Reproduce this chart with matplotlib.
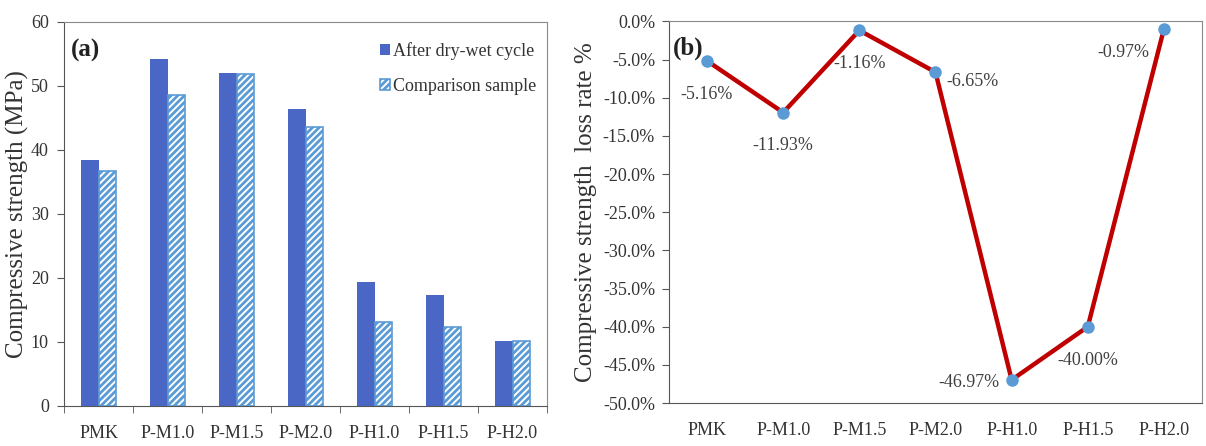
import matplotlib
matplotlib.use("Agg")
import matplotlib.pyplot as plt
import numpy as np
from matplotlib.ticker import FuncFormatter, MultipleLocator

categories = ["PMK", "P-M1.0", "P-M1.5", "P-M2.0", "P-H1.0", "P-H1.5", "P-H2.0"]
after_cycle = [38.4, 54.2, 52.0, 46.3, 19.3, 17.3, 10.2]
comparison = [36.7, 48.5, 51.8, 43.6, 13.1, 12.4, 10.2]
loss_rate = [-5.16, -11.93, -1.16, -6.65, -46.97, -40.00, -0.97]
loss_labels = ["-5.16%", "-11.93%", "-1.16%", "-6.65%", "-46.97%", "-40.00%", "-0.97%"]
# label offsets in points (dx, dy)
label_offsets = [(0, -24), (0, -24), (0, -24), (27, -7), (-31, -2), (0, -24), (-29, -17)]

plt.rcParams['font.family'] = ['Liberation Serif', 'DejaVu Serif']
plt.rcParams['hatch.linewidth'] = 2.0

dark = '#333333'
spine_c = '#8a8a8a'
blue = '#4A67C6'
light = '#5B9BD5'
red = '#C00000'

fig = plt.figure(figsize=(12.06, 4.46), dpi=100)
ax1 = fig.add_axes([0.0531, 0.0897, 0.4005, 0.862])
ax2 = fig.add_axes([0.5547, 0.0964, 0.4420, 0.8554])

x = np.arange(len(categories))
w = 0.25
ax1.bar(x - w / 2, after_cycle, width=w, color=blue, label="After dry-wet cycle", zorder=2)
ax1.bar(x + w / 2, comparison, width=w, facecolor='white', edgecolor=light, hatch='/////',
        linewidth=1.2, label="Comparison sample", zorder=2)
ax1.set_xlim(-0.5, len(categories) - 0.5)
ax1.set_ylim(0, 60)
ax1.yaxis.set_major_locator(MultipleLocator(10))
ax1.set_xticks(x)
ax1.set_xticklabels(categories)
ax1.set_xticks(np.arange(len(categories) + 1) - 0.5, minor=True)
ax1.tick_params(axis='x', which='major', length=0, pad=14, labelsize=13, labelcolor=dark)
ax1.tick_params(axis='x', which='minor', length=5, direction='out', color='#555555')
ax1.tick_params(axis='y', length=5, direction='out', color='#555555', labelsize=13, labelcolor=dark, pad=6)
ax1.set_ylabel("Compressive strength (MPa)", fontsize=18, color=dark, labelpad=1)
for s in ['top', 'right']:
    ax1.spines[s].set_color(spine_c)
for s in ['left', 'bottom']:
    ax1.spines[s].set_color('#555555')
ax1.text(0.015, 0.955, "(a)", transform=ax1.transAxes, fontsize=18, fontweight='bold',
         va='top', ha='left', color='#222222')
leg = ax1.legend(loc='upper right', bbox_to_anchor=(1.0, 0.975), frameon=False, fontsize=13,
                 handlelength=0.55, handleheight=0.55, handletextpad=0.15, labelspacing=1.0,
                 borderaxespad=0.2)
for t in leg.get_texts():
    t.set_color(dark)

ax2.plot(x, loss_rate, color=red, linewidth=3.2, marker='o', markersize=8,
         markerfacecolor=light, markeredgecolor=light, zorder=3)
for xi, yi, lab, off in zip(x, loss_rate, loss_labels, label_offsets):
    ax2.annotate(lab, (xi, yi), xytext=off, textcoords='offset points', ha='center', va='center',
                 fontsize=13, color='#404040')
ax2.set_xlim(-0.5, len(categories) - 0.5)
ax2.set_ylim(-50, 0)
ax2.yaxis.set_major_locator(MultipleLocator(5))
ax2.yaxis.set_major_formatter(FuncFormatter(lambda v, p: f"{v:.1f}%"))
ax2.set_xticks(x)
ax2.set_xticklabels(categories)
ax2.tick_params(axis='x', length=0, pad=14, labelsize=13, labelcolor=dark)
ax2.tick_params(axis='y', length=5, direction='out', color='#555555', labelsize=13, labelcolor=dark, pad=5)
ax2.set_ylabel("Compressive strength  loss rate %", fontsize=18, color=dark, labelpad=4)
for s in ['top', 'right']:
    ax2.spines[s].set_color(spine_c)
for s in ['left', 'bottom']:
    ax2.spines[s].set_color('#555555')
ax2.text(0.008, 0.96, "(b)", transform=ax2.transAxes, fontsize=18, fontweight='bold',
         va='top', ha='left', color='#222222')

fig.savefig("out.png", dpi=100)
